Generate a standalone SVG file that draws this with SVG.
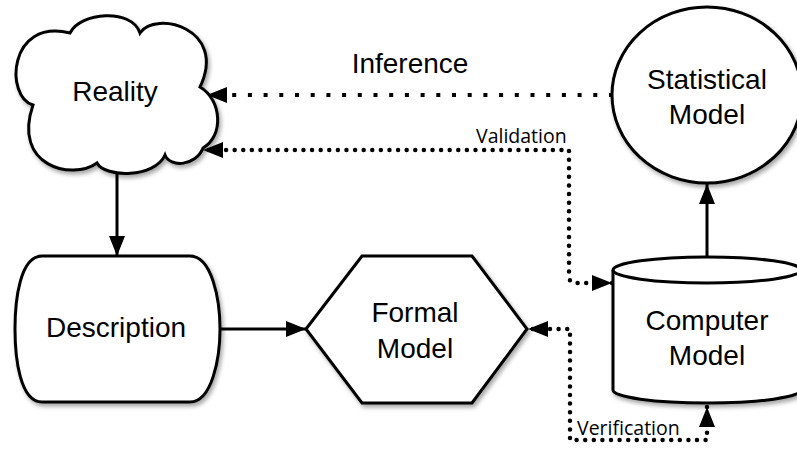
<svg xmlns="http://www.w3.org/2000/svg" width="797" height="450" viewBox="0 0 797 450">
  <defs>
    <filter id="shadow" x="-10%" y="-10%" width="130%" height="130%">
      <feDropShadow dx="2" dy="3" stdDeviation="2" flood-color="#000" flood-opacity="0.35"/>
    </filter>
    <marker id="head" viewBox="0 0 20 16" refX="20" refY="8" markerWidth="20" markerHeight="16" markerUnits="userSpaceOnUse" orient="auto-start-reverse">
      <path d="M0,0 L20,8 L0,16 Z" fill="#000"/>
    </marker>
  </defs>
  <style>
    .shape { fill: #fff; stroke: #000; stroke-width: 3; filter: url(#shadow); }
    .label { font-family: "Liberation Sans", Arial, sans-serif; font-size: 28px; fill: #000; text-anchor: middle; }
    .note { font-family: "Open Sans", "Liberation Sans", sans-serif; font-size: 19.5px; fill: #000; }
    .solid { fill: none; stroke: #000; stroke-width: 3; marker-end: url(#head); }
    .dots { fill: none; stroke: #000; stroke-width: 4.5; stroke-linecap: round; stroke-dasharray: 0 8.6; marker-start: url(#head); marker-end: url(#head); }
    .sparse { fill: none; stroke: #000; stroke-width: 4; stroke-dasharray: 4 11.7; marker-end: url(#head); }
  </style>

  <rect width="797" height="450" fill="#fff"/>

  <!-- connectors -->
  <g id="connectors">
    <path class="solid" d="M117,172 V256"/>
    <path class="solid" d="M220,329 H306"/>
    <path class="solid" d="M707,257 V184"/>
    <path class="sparse" d="M613,95 H207"/>
    <path class="dots" d="M612,283 H576 Q569,283 569,276 V150 H203"/>
    <path class="dots" d="M707,407 V440 H570 V329 H528"/>
  </g>

  <!-- edge labels -->
  <text class="label" x="410" y="73">Inference</text>
  <text class="note" x="476" y="143">Validation</text>
  <text class="note" x="577" y="435">Verification</text>

  <!-- Reality -->
  <g id="reality">
    <path class="shape" d="M70,33 C80,12 132,8 140,33 C155,10 228,28 200,87 C222,100 224,136 203,148 C196,166 170,168 165,155 C155,178 105,178 97,163 C72,181 12,166 33,105 C5,97 8,18 70,33 Z"/>
    <text class="label" x="115" y="101">Reality</text>
  </g>

  <!-- Description -->
  <g id="description">
    <path class="shape" d="M42,256 H190 C212,256 220,300 220,329 C220,358 212,402 190,402 H42 C20,402 15,358 15,329 C15,300 20,256 42,256 Z"/>
    <text class="label" x="116" y="337">Description</text>
  </g>

  <!-- Formal Model -->
  <g id="formal-model">
    <polygon class="shape" points="306,329 362,256 472,256 527,329 472,403 362,403"/>
    <text class="label" x="415" y="322">Formal</text>
    <text class="label" x="415" y="358">Model</text>
  </g>

  <!-- Statistical Model -->
  <g id="statistical-model">
    <ellipse class="shape" cx="707" cy="95" rx="95" ry="88"/>
    <text class="label" x="707" y="89">Statistical</text>
    <text class="label" x="707" y="124">Model</text>
  </g>

  <!-- Computer Model -->
  <g id="computer-model">
    <path class="shape" d="M613,270 V390 A94,13 0 0 0 801,390 V270 A94,13 0 0 0 613,270 Z"/>
    <path d="M613,270 A94,13 0 0 0 801,270" fill="none" stroke="#000" stroke-width="3"/>
    <text class="label" x="707" y="330">Computer</text>
    <text class="label" x="707" y="365">Model</text>
  </g>
</svg>
